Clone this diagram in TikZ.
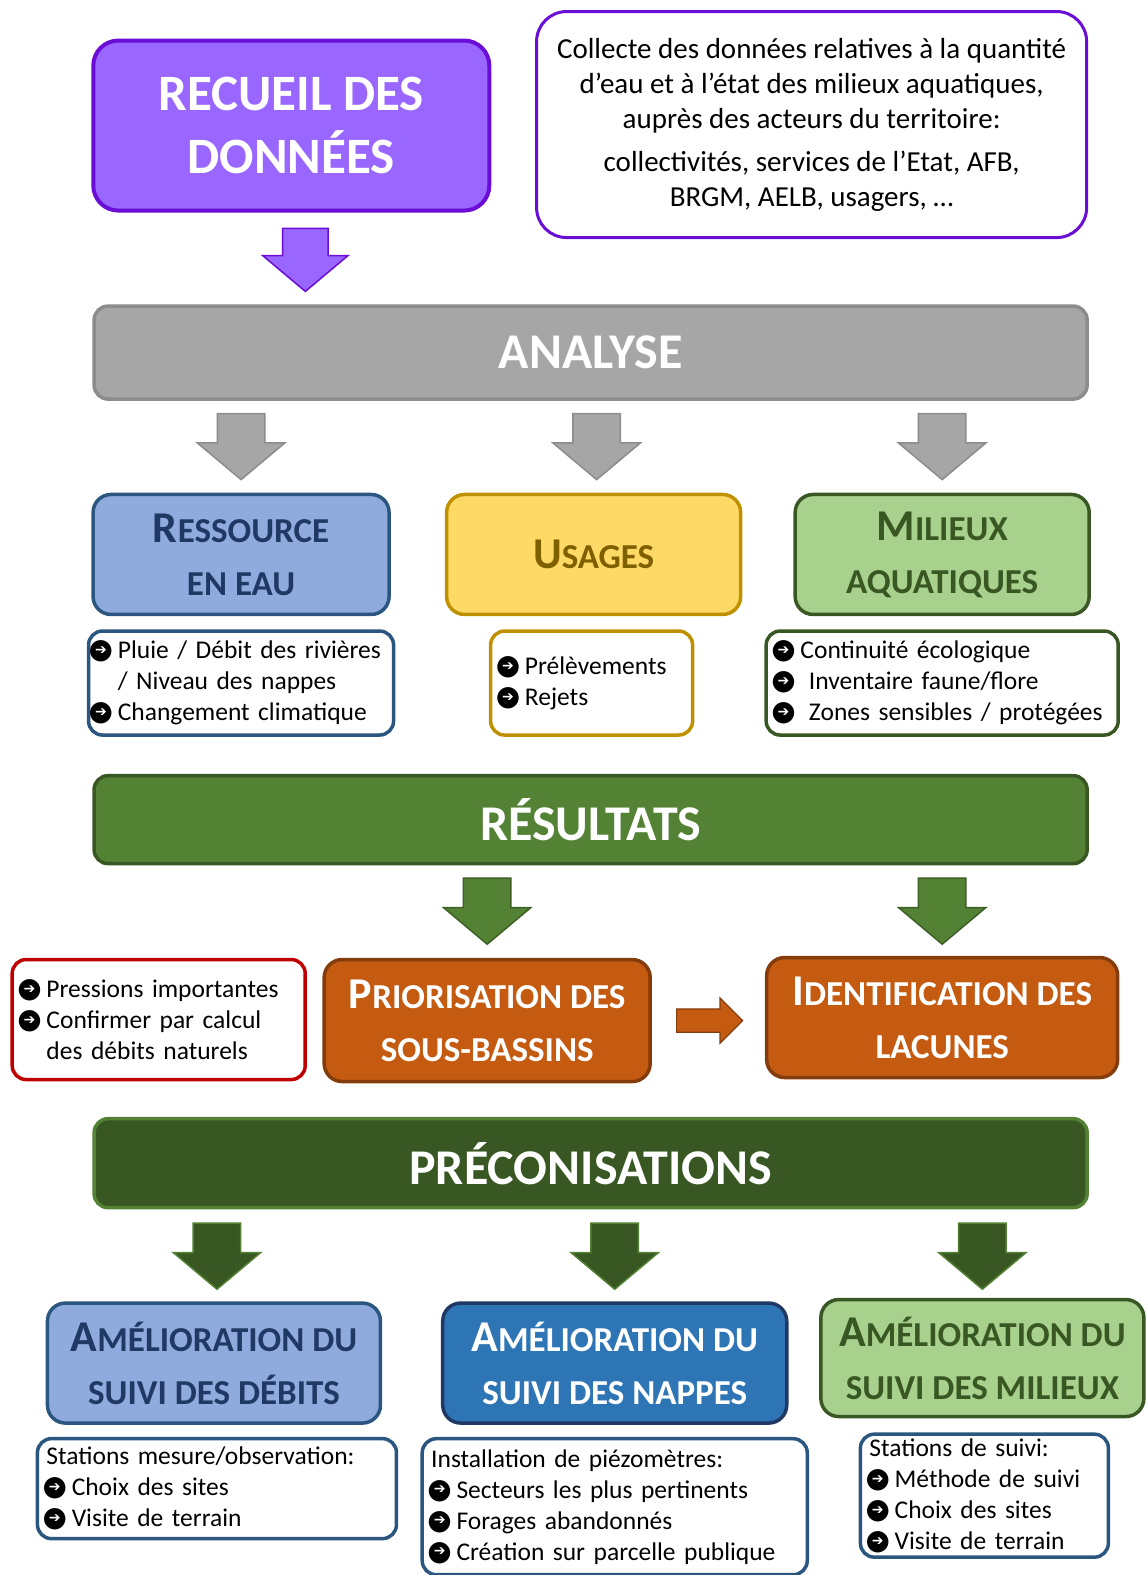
\documentclass[tikz,border=0pt]{standalone}
\usepackage{fontspec}
\setmainfont{Carlito}
\newfontfamily\puces{DejaVu Sans}
\usepackage{xcolor}
\usetikzlibrary{shapes.arrows,calc}
\definecolor{violet1}{HTML}{9966FF}
\definecolor{violet2}{HTML}{6A0DD6}
\definecolor{gris1}{HTML}{A6A6A6}
\definecolor{gris2}{HTML}{8C8C8C}
\definecolor{bleu1}{HTML}{8FAADC}
\definecolor{bleu2}{HTML}{2A5680}
\definecolor{bleu3}{HTML}{203864}
\definecolor{bleu4}{HTML}{2E75B6}
\definecolor{jaune1}{HTML}{FFD966}
\definecolor{jaune2}{HTML}{BF9000}
\definecolor{jaune3}{HTML}{7F6000}
\definecolor{vert1}{HTML}{A9D18E}
\definecolor{vert2}{HTML}{385723}
\definecolor{vert3}{HTML}{548235}
\definecolor{rouge}{HTML}{C00000}
\definecolor{orange1}{HTML}{C55A11}
\definecolor{orange2}{HTML}{843C0C}
\newcommand{\puce}{{\puces\fontsize{28}{28}\selectfont\makebox[0pt][l]{\makebox[0.6em][c]{●}}\makebox[0.6em][c]{\raisebox{4.2pt}{\color{white}\fontsize{14}{14}\selectfont ➔}}}\ }
\newcommand{\vide}{\hphantom{\puce}}
\newcommand{\grand}[1]{{\fontsize{44}{44}\selectfont #1}}
\tikzstyle{mybox}=[rectangle, rounded corners=16, line width=3.5, inner sep=0, align=center]
\tikzstyle{titre}=[mybox, rounded corners=25, line width=4, text=white, font=\bfseries\fontsize{51}{63}\selectfont]
\tikzstyle{bandeau}=[mybox, rounded corners=14, minimum width=993, text=white, font=\bfseries\fontsize{50}{50}\selectfont]
\tikzstyle{petitcap}=[mybox, rounded corners=18, minimum height=120, font=\bfseries\fontsize{35}{53}\selectfont]
\tikzstyle{liste}=[mybox, rounded corners=14, fill=white, align=left, inner xsep=9, font=\fontsize{25.5}{31}\selectfont]
\tikzstyle{fleche}=[single arrow, rotate=-90, anchor=tail, minimum height=66, inner xsep=0, inner ysep=23, single arrow head extend=20, single arrow tip angle=100, line width=1.5]

\begin{document}
\begin{tikzpicture}[x=1.0044pt, y=-1.0044pt]
\useasboundingbox (0,0) rectangle (1140,1568);

\node[titre, fill=violet1, draw=violet2, minimum width=396, minimum height=170] (recueil) at (290,125) {RECUEIL DES\\DONNÉES};
\node[mybox, rounded corners=30, line width=3, draw=violet2, fill=white, minimum width=550, minimum height=226, font=\fontsize{29}{35}\selectfont] (info) at (808,124)
  {Collecte des données relatives à la quantité\\d’eau et à l’état des milieux aquatiques,\\auprès des acteurs du territoire:\\[8pt]collectivités, services de l’Etat, AFB,\\BRGM, AELB, usagers, …};

\node[bandeau, fill=gris1, draw=gris2, minimum height=93] (analyse) at (588,351) {ANALYSE};

\node[petitcap, fill=bleu1, draw=bleu2, text=bleu3, minimum width=296] (ress) at (240,552) {\grand{R}ESSOURCE\\EN EAU};
\node[petitcap, fill=jaune1, draw=jaune2, text=jaune3, minimum width=294] (usages) at (591,552) {\grand{U}SAGES};
\node[petitcap, fill=vert1, draw=vert2, text=vert2, minimum width=294] (milieux) at (938,552) {\grand{M}ILIEUX\\AQUATIQUES};

\node[liste, draw=bleu2, inner xsep=4, text width=297, minimum height=104] (lress) at (240,680) {\puce Pluie / Débit des rivières\\\vide / Niveau des nappes\\\puce Changement climatique};
\node[liste, draw=jaune2, text width=184, minimum height=104] (lusages) at (589,680) {\puce Prélèvements\\\puce Rejets};
\node[liste, draw=vert2, text width=334, minimum height=104] (lmilieux) at (938,680) {\puce Continuité écologique\\\puce\ Inventaire faune/flore\\\puce\ Zones sensibles / protégées};

\node[bandeau, fill=vert3, draw=vert2, minimum height=88] (resultats) at (588,816) {RÉSULTATS};

\node[liste, draw=rouge, text width=275, minimum height=120] (pressions) at (158,1015) {\puce Pressions importantes\\\puce Confirmer par calcul\\\vide des débits naturels};
\node[petitcap, fill=orange1, draw=orange2, text=white, minimum width=326, minimum height=122] (prio) at (485,1016) {\grand{P}RIORISATION DES\\SOUS-BASSINS};
\node[petitcap, fill=orange1, draw=orange2, text=white, minimum width=351] (ident) at (938,1013) {\grand{I}DENTIFICATION DES\\LACUNES};

\node[bandeau, fill=vert2, draw=vert3, minimum height=89] (precon) at (588,1158) {PRÉCONISATIONS};

\node[petitcap, fill=bleu1, draw=bleu2, text=bleu3, minimum width=333] (debits) at (213,1357) {\grand{A}MÉLIORATION DU\\SUIVI DES DÉBITS};
\node[petitcap, fill=bleu4, draw=bleu3, text=white, minimum width=344] (nappes) at (612,1357) {\grand{A}MÉLIORATION DU\\SUIVI DES NAPPES};
\node[petitcap, fill=vert1, draw=vert2, text=vert2, minimum width=323, minimum height=117] (suivimil) at (978,1352) {\grand{A}MÉLIORATION DU\\SUIVI DES MILIEUX};

\node[liste, draw=bleu2, text width=341, minimum height=100] (ldebits) at (216,1482) {Stations mesure/observation:\\\puce Choix des sites\\\puce Visite de terrain};
\node[liste, draw=bleu2, text width=367, minimum height=136] (lnappes) at (612,1500) {Installation de piézomètres:\\\puce Secteurs les plus pertinents\\\puce Forages abandonnés\\\puce Création sur parcelle publique};
\node[liste, draw=bleu2, text width=230, minimum height=123] (lsuivimil) at (980,1489) {Stations de suivi:\\\puce Méthode de suivi\\\puce Choix des sites\\\puce Visite de terrain};

\node[fleche, fill=violet1, draw=violet2, minimum height=63, inner ysep=22] (f0) at ($(recueil.south)+(14,15)$) {};
\node[fleche, fill=gris1, draw=gris2] (f1) at ($(analyse.south -| ress.north)+(0,12)$) {};
\node[fleche, fill=gris1, draw=gris2] (f2) at ($(analyse.south -| usages.north)+(3,12)$) {};
\node[fleche, fill=gris1, draw=gris2] (f3) at ($(analyse.south -| milieux.north)+(0,12)$) {};
\node[fleche, fill=vert3, draw=vert2!80!vert3] (f4) at ($(resultats.south -| prio.north)+(0,12)$) {};
\node[fleche, fill=vert3, draw=vert2!80!vert3] (f5) at ($(resultats.south -| ident.north)+(0,12)$) {};
\node[single arrow, fill=orange1, draw=orange2, line width=1.2, anchor=tail, minimum height=66, inner xsep=0, inner ysep=11, single arrow head extend=11, single arrow tip angle=90] (f6) at ($(prio.east)+(24,0)$) {};
\node[fleche, fill=vert2, draw=vert3] (f7) at ($(precon.south -| debits.north)+(3,13)$) {};
\node[fleche, fill=vert2, draw=vert3] (f8) at ($(precon.south -| nappes.north)+(0,13)$) {};
\node[fleche, fill=vert2, draw=vert3] (f9) at ($(precon.south -| suivimil.north)+(0,13)$) {};
\end{tikzpicture}
\end{document}
